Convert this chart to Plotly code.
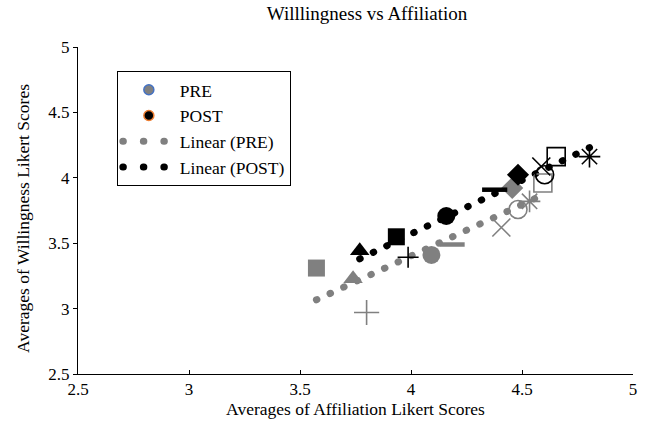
import numpy as np
import plotly.graph_objects as go

# PRE data (grey markers), each point has its own symbol
pre_x = [3.574, 3.739, 3.800, 4.092, 4.185, 4.407, 4.482, 4.534, 4.456, 4.594]
pre_y = [3.310, 3.228, 2.970, 3.410, 3.490, 3.620, 3.758, 3.820, 3.922, 3.960]
pre_sym = ["square", "triangle-up", "cross-thin", "circle", "line-ew",
           "x-thin", "circle-open", "asterisk", "diamond", "square-open"]

# POST data (black markers)
post_x = [3.769, 3.934, 3.987, 4.159, 4.377, 4.482, 4.587, 4.602, 4.654, 4.804]
post_y = [3.443, 3.549, 3.393, 3.708, 3.909, 4.023, 4.086, 4.023, 4.162, 4.162]
post_sym = ["triangle-up", "square", "cross-thin", "circle", "line-ew",
            "diamond", "x-thin", "circle-open", "square-open", "asterisk"]

tick_vals = [2.5, 3, 3.5, 4, 4.5, 5]
tick_text = ["2.5", "3", "3.5", "4", "4.5", "5"]

GREY = "#808080"
BLACK = "#000000"
FONT = "Liberation Serif"
DOTS = "0.5px,14.5px"
LEG_DOTS = "0.5px,20px"

fig = go.Figure()


def sym_style(sym, color):
    open_like = sym.endswith("-open") or sym.endswith("-thin") or sym in ("asterisk", "line-ew")
    size = 18
    lw = 1.6
    if sym == "line-ew":
        lw = 4.5
    if sym in ("square", "triangle-up", "diamond"):
        size = 17
    if sym == "cross-thin" and color == BLACK:
        size = 15
    return dict(symbol=sym, size=size, color=color,
                line=dict(color=color, width=lw if open_like else 0))


# trendlines (least squares fits of the data)
def trend(xs, ys):
    k, b = np.polyfit(xs, ys, 1)
    x0, x1 = min(xs), max(xs)
    return [x0, x1], [k * x0 + b, k * x1 + b]


tx, ty = trend(pre_x, pre_y)
fig.add_trace(go.Scatter(x=tx, y=ty, mode="lines", name="Linear (PRE)",
                         line=dict(color=GREY, width=7, dash=DOTS),
                         showlegend=False, hoverinfo="skip"))
tx2, ty2 = trend(post_x, post_y)
fig.add_trace(go.Scatter(x=tx2, y=ty2, mode="lines", name="Linear (POST)",
                         line=dict(color=BLACK, width=7, dash=DOTS),
                         showlegend=False, hoverinfo="skip"))

for x, y, s in zip(pre_x, pre_y, pre_sym):
    fig.add_trace(go.Scatter(x=[x], y=[y], mode="markers", marker=sym_style(s, GREY),
                             showlegend=False))
for x, y, s in zip(post_x, post_y, post_sym):
    fig.add_trace(go.Scatter(x=[x], y=[y], mode="markers", marker=sym_style(s, BLACK),
                             showlegend=False))

# legend entries
fig.add_trace(go.Scatter(x=[None], y=[None], mode="markers", name="PRE",
                         marker=dict(symbol="circle", size=10, color=GREY,
                                     line=dict(color="#4472C4", width=1.5))))
fig.add_trace(go.Scatter(x=[None], y=[None], mode="markers", name="POST",
                         marker=dict(symbol="circle", size=10, color=BLACK,
                                     line=dict(color="#ED7D31", width=1.5))))
fig.add_trace(go.Scatter(x=[None], y=[None], mode="lines", name="Linear (PRE)",
                         line=dict(color=GREY, width=7, dash=LEG_DOTS)))
fig.add_trace(go.Scatter(x=[None], y=[None], mode="lines", name="Linear (POST)",
                         line=dict(color=BLACK, width=7, dash=LEG_DOTS)))

fig.update_layout(
    width=649, height=428,
    margin=dict(l=78, r=16, t=47, b=50),
    paper_bgcolor="white", plot_bgcolor="white",
    font=dict(family=FONT, size=17, color="black"),
    title=dict(text="Willlingness vs Affiliation", x=367 / 649, xanchor="center",
               y=0.985, yanchor="top", font=dict(family=FONT, size=19, color="black")),
    showlegend=True,
    legend=dict(x=0.07, y=0.927, xanchor="left", yanchor="top",
                bordercolor="black", borderwidth=1, bgcolor="white",
                font=dict(family=FONT, size=17.5, color="black"),
                itemwidth=52, tracegroupgap=0),
    xaxis=dict(range=[2.5, 5], tickvals=tick_vals, ticktext=tick_text,
               showgrid=False, zeroline=False, showline=True, linecolor="black",
               linewidth=1, ticks="inside", ticklen=4, tickcolor="black",
               tickfont=dict(family=FONT, size=17),
               title=dict(text="Averages of Affiliation Likert Scores",
                          font=dict(family=FONT, size=17.5), standoff=4)),
    yaxis=dict(range=[2.5, 5], tickvals=tick_vals, ticktext=tick_text,
               showgrid=False, zeroline=False, showline=True, linecolor="black",
               linewidth=1, ticks="outside", ticklen=4, tickcolor="black",
               tickfont=dict(family=FONT, size=17)),
    annotations=[dict(text="Averages of Willingness Likert Scores", textangle=-90,
                      xref="paper", yref="paper", x=(23 - 78) / 555, y=(378 - 221) / 331,
                      xanchor="center", yanchor="middle", showarrow=False,
                      font=dict(family=FONT, size=17.5, color="black"))],
)

post_script = """
(function(){
  var gd = document.getElementById('{plot_id}');
  function fix(){
    var paths = gd.querySelectorAll('path');
    for (var i = 0; i < paths.length; i++) {
      var p = paths[i];
      var d = p.style.strokeDasharray || p.getAttribute('stroke-dasharray') || '';
      if (d.indexOf('0.5') === 0) { p.style.strokeLinecap = 'round'; }
    }
  }
  fix();
  if (gd.on) { gd.on('plotly_afterplot', fix); }
  setTimeout(fix, 50); setTimeout(fix, 300);
})();
"""

fig.write_html("out.html", post_script=post_script)
